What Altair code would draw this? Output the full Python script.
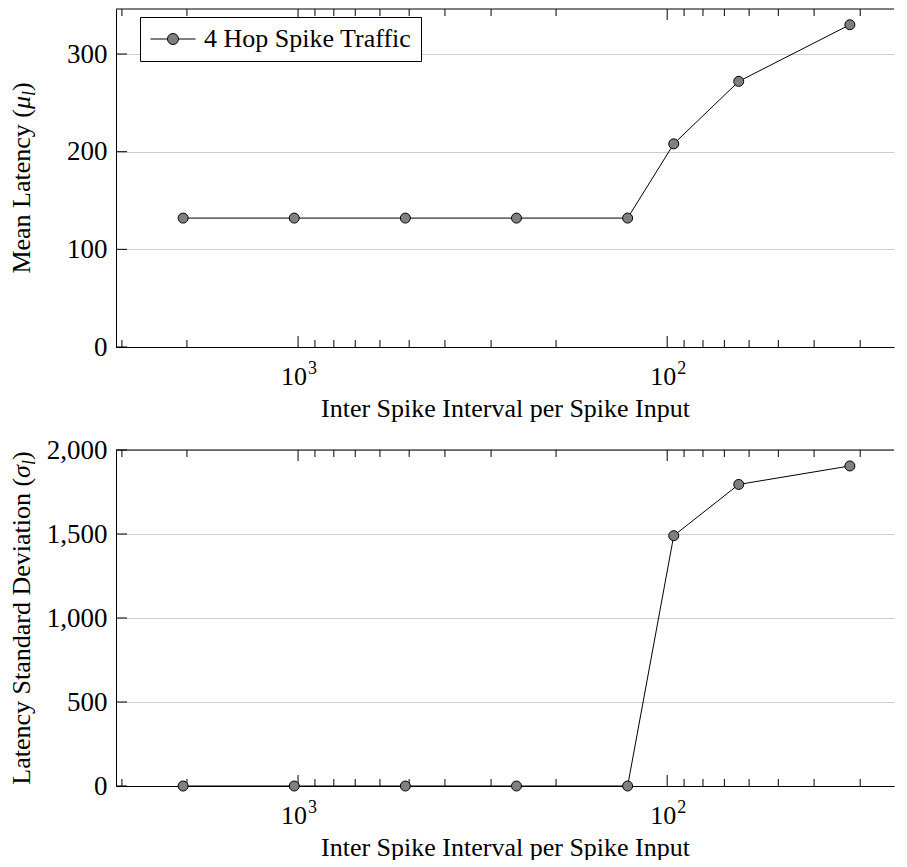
import altair as alt
import pandas as pd

# ---- data ----
isi = [2048, 1024, 512, 256, 128, 96, 64, 32]
mean_latency = [132, 132, 132, 132, 132, 208, 272, 330]
std_latency = [0, 0, 0, 0, 0, 1490, 1795, 1905]
series_name = "4 Hop Spike Traffic"

x_major = [1000, 100]
x_major_exp = ["3", "2"]
x_minor = [3000, 2000, 900, 800, 700, 600, 500, 400, 300, 200,
           90, 80, 70, 60, 50, 40, 30]
mean_ticks = [0, 100, 200, 300]
std_ticks = [0, 500, 1000, 1500, 2000]

x_title = "Inter Spike Interval per Spike Input"
mean_title = ("Mean Latency (", "\u03bc", "l", ")")
std_title = ("Latency Standard Deviation (", "\u03c3", "l", ")")
# approximate advance widths (in em) of the roman part of each y title
mean_title_em = 6.331
std_title_em = 11.803

W = 778
FONT = "Liberation Serif"
FS = 26          # text size
X_DOMAIN = [24.3, 3113]

LEGEND_PATH = ("M-2.05,0L-0.5,0M0.5,0L2.05,0"
               "M-0.5,0A0.5,0.5,0,1,1,0.5,0A0.5,0.5,0,1,1,-0.5,0")


def y_title_layers(parts, main_em, H):
    one = pd.DataFrame({"a": [0]})
    main, greek, sub, close = parts
    w_main = main_em * FS
    w_greek = 0.5 * FS
    w_sub = 0.278 * 18
    w_close = 0.333 * FS
    total = w_main + w_greek + w_sub + w_close
    start = H / 2 + total / 2          # bottom end of the rotated title
    p1 = start - w_main
    xb = -86
    common = dict(angle=270, baseline="alphabetic", font=FONT, color="black")
    t1 = alt.Chart(one).mark_text(text=main, align="right", fontSize=FS,
                                  **common).encode(x=alt.value(xb), y=alt.value(p1))
    t2 = alt.Chart(one).mark_text(text=greek, align="left", fontSize=FS,
                                  fontStyle="italic", **common).encode(
        x=alt.value(xb), y=alt.value(p1))
    t3 = alt.Chart(one).mark_text(text=sub, align="left", fontSize=18,
                                  fontStyle="italic", **common).encode(
        x=alt.value(xb + 5), y=alt.value(p1 - w_greek))
    t4 = alt.Chart(one).mark_text(text=close, align="left", fontSize=FS,
                                  **common).encode(
        x=alt.value(xb), y=alt.value(p1 - w_greek - w_sub))
    return [t1, t2, t3, t4]


def panel(yvals, title_parts, title_em, ydomain, yticks, yfmt, H, legend_y):
    df = pd.DataFrame({"x": isi, "y": yvals, "series": series_name})
    major = pd.DataFrame({"x": x_major, "base": ["10", "10"], "exp": x_major_exp})
    minor = pd.DataFrame({"x": x_minor})
    ytk = pd.DataFrame({"y": yticks})
    one = pd.DataFrame({"a": [0]})

    xscale = alt.Scale(type="log", domain=X_DOMAIN, reverse=True)
    yscale = alt.Scale(domain=ydomain, nice=False, zero=True)
    xaxis = alt.Axis(
        values=x_major, ticks=False, grid=False, labels=False,
        title=x_title, titlePadding=48,
        domainColor="black", domainWidth=1,
    )
    yaxis = alt.Axis(
        values=yticks, format=yfmt, ticks=False, grid=True,
        gridColor="#cccccc", gridWidth=1, labelPadding=9, title=None,
        domainColor="black", domainWidth=1,
    )
    X = alt.X("x:Q", scale=xscale, axis=xaxis)
    Y = alt.Y("y:Q", scale=yscale, axis=yaxis)

    xmaj_b = alt.Chart(major).mark_rule(color="black", strokeWidth=1).encode(
        x=X, y=alt.value(H), y2=alt.value(H - 11))
    xmaj_t = alt.Chart(major).mark_rule(color="black", strokeWidth=1).encode(
        x=X, y=alt.value(0), y2=alt.value(11))
    xmin_b = alt.Chart(minor).mark_rule(color="black", strokeWidth=1).encode(
        x=X, y=alt.value(H), y2=alt.value(H - 7))
    xmin_t = alt.Chart(minor).mark_rule(color="black", strokeWidth=1).encode(
        x=X, y=alt.value(0), y2=alt.value(7))
    ytick = alt.Chart(ytk).mark_rule(color="black", strokeWidth=1).encode(
        y=Y, x=alt.value(0), x2=alt.value(11))
    top_border = alt.Chart(one).mark_rule(color="black", strokeWidth=1).encode(
        x=alt.value(0), x2=alt.value(W), y=alt.value(0))

    lbl_base = alt.Chart(major).mark_text(
        font=FONT, fontSize=FS, color="black", align="center",
        baseline="alphabetic", dx=-4,
    ).encode(x=X, y=alt.value(H + 38), text="base:N")
    lbl_exp = alt.Chart(major).mark_text(
        font=FONT, fontSize=18, color="black", align="left",
        baseline="alphabetic", dx=10,
    ).encode(x=X, y=alt.value(H + 27), text="exp:N")

    line = alt.Chart(df).mark_line(color="black", strokeWidth=1).encode(x=X, y=Y)
    pts = alt.Chart(df).mark_point(
        shape="circle", filled=True, size=100, stroke="black",
        strokeWidth=1, opacity=1,
    ).encode(
        x=X, y=Y,
        color=alt.Color(
            "series:N",
            scale=alt.Scale(range=["#808080"]),
            legend=alt.Legend(
                title=None, orient="none", legendX=24, legendY=legend_y,
                symbolType=LEGEND_PATH, symbolSize=484,
                symbolStrokeColor="black", symbolStrokeWidth=1,
                symbolFillColor="#808080", symbolOffset=11,
                labelFont=FONT, labelFontSize=FS, labelColor="black",
                labelOffset=18, labelLimit=600, padding=9,
                strokeColor="black", fillColor="white", cornerRadius=0,
            ),
        ),
    )
    layers = [xmin_b, xmin_t, xmaj_b, xmaj_t, ytick, top_border,
              lbl_base, lbl_exp] + y_title_layers(title_parts, title_em, H) + [line, pts]
    return alt.layer(*layers).properties(width=W, height=H)


top = panel(mean_latency, mean_title, mean_title_em, [0, 346.1], mean_ticks, "d",
            338, 8)
bottom = panel(std_latency, std_title, std_title_em, [0, 2000], std_ticks, ",d",
               336, 11)

chart = (
    alt.vconcat(top, bottom, spacing=15)
    .properties(padding=0)
    .configure(font=FONT)
    .configure_view(stroke=None)
    .configure_axis(
        labelFont=FONT, titleFont=FONT, labelColor="black", titleColor="black",
        labelFontSize=27, titleFontSize=FS, titleFontWeight="normal",
    )
)

chart.save("out.html", embed_options={"renderer": "svg", "actions": False})
